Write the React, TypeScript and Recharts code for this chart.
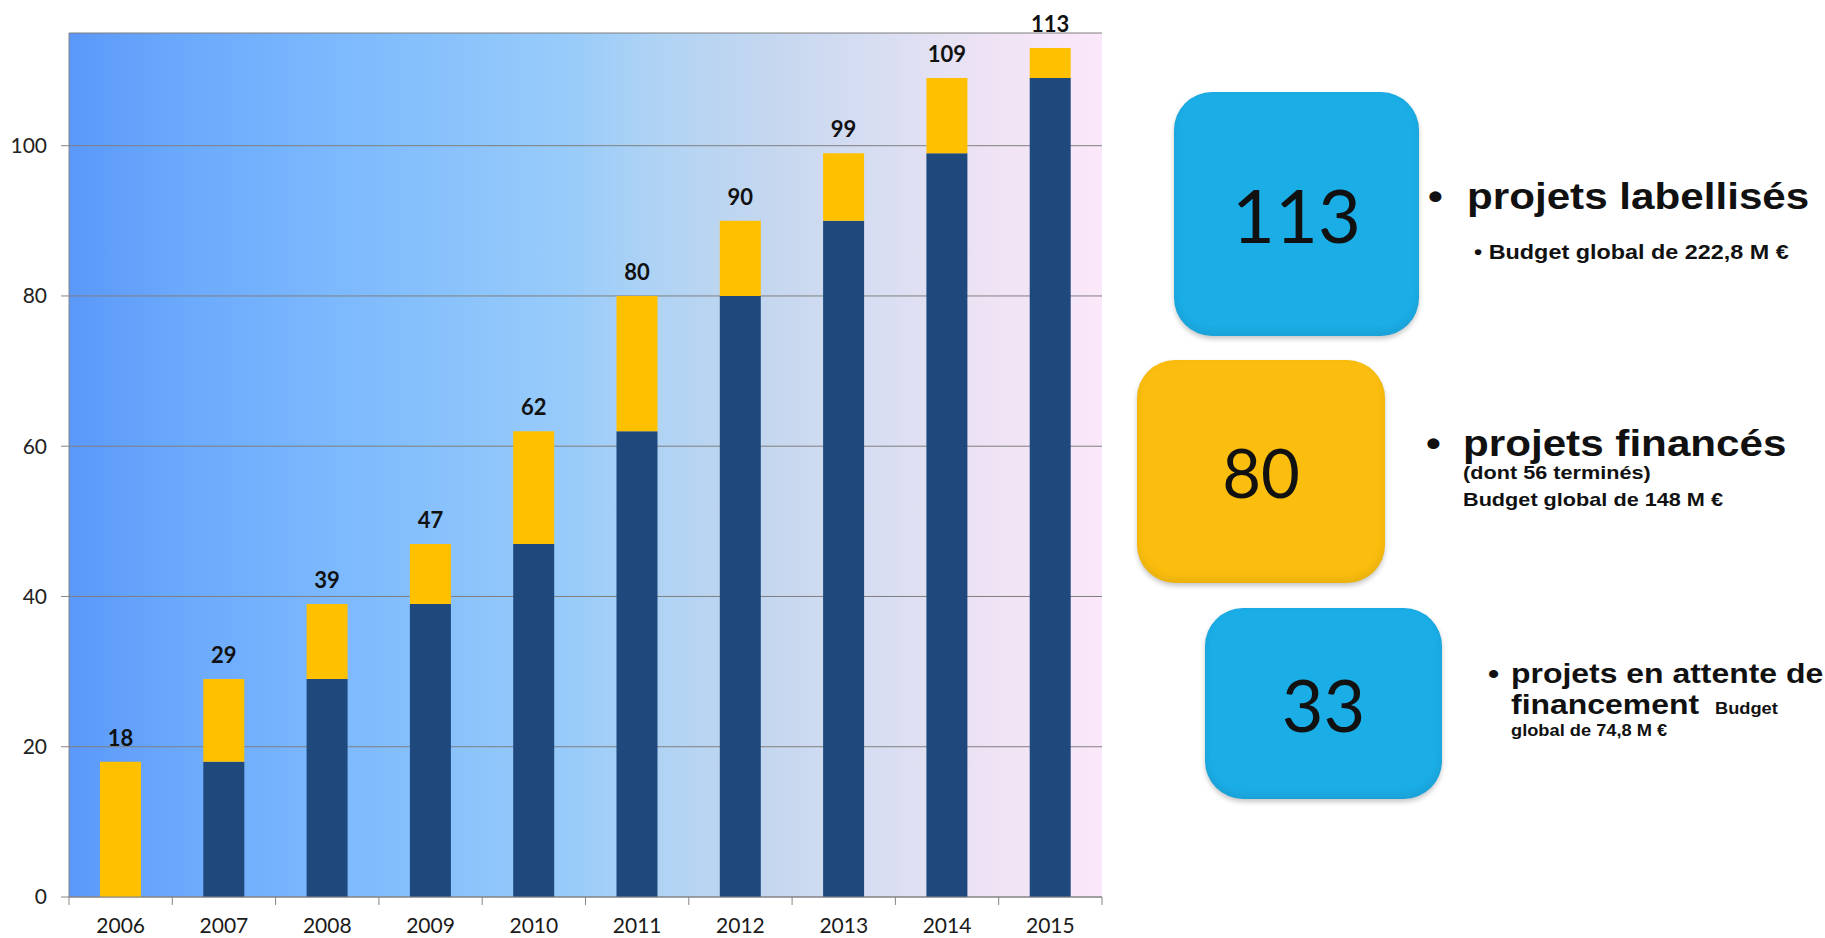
import React from 'react';
import {
    BarChart,
    Bar,
    XAxis,
    YAxis,
    CartesianGrid,
    LabelList,
} from 'recharts';

// values
const years = ['2006', '2007', '2008', '2009', '2010', '2011', '2012', '2013', '2014', '2015'];
const financed = [0, 18, 29, 39, 47, 62, 80, 90, 99, 109];
const added = [18, 11, 10, 8, 15, 18, 10, 9, 10, 4];
const totals = [18, 29, 39, 47, 62, 80, 90, 99, 109, 113];
const yTicks = [0, 20, 40, 60, 80, 100];

const data = years.map((year, i) => ({
    year,
    financed: financed[i],
    added: added[i],
    total: totals[i],
}));

const NAVY = '#1F497D';
const GOLD = '#FFC000';
const AXIS = '#868686';
const CHART_FONT = 'Lato, "Open Sans", sans-serif';
const TEXT_FONT = '"Liberation Sans", Arial, sans-serif';
const SX = 1.14;
const X_TICK_MARGIN = 21;

// year label + Excel-style tick marks between the categories
const YearTick = (props: any) => {
    const { x, y, payload, index, visibleTicksCount } = props;
    const half = payload && payload.offset ? payload.offset : 0;
    const axisY = y - X_TICK_MARGIN;
    return (
        <g>
            {half ? (
                <line x1={x - half} x2={x - half} y1={axisY} y2={axisY + 8} stroke={AXIS} />
            ) : null}
            {half && index === visibleTicksCount - 1 ? (
                <line x1={x + half} x2={x + half} y1={axisY} y2={axisY + 8} stroke={AXIS} />
            ) : null}
            <text
                x={x}
                y={y}
                dy="0.7em"
                textAnchor="middle"
                fill="#1a1a1a"
                fontSize={21}
                fontFamily={CHART_FONT}
            >
                {payload.value}
            </text>
        </g>
    );
};

function Line({ left, baseline, size, children }: any) {
    return (
        <div
            style={{
                position: 'absolute',
                left,
                top: baseline - 0.8465 * size,
                fontSize: size,
                lineHeight: `${size}px`,
                fontFamily: TEXT_FONT,
                fontWeight: 700,
                color: '#111',
                whiteSpace: 'nowrap',
                transform: `scaleX(${SX})`,
                transformOrigin: '0 0',
            }}
        >
            {children}
        </div>
    );
}

function Box({ left, top, width, height, color, size, value }: any) {
    return (
        <div
            style={{
                position: 'absolute',
                left,
                top,
                width,
                height,
                background: color,
                borderRadius: 38,
                boxShadow: '0 3px 5px rgba(0,0,0,0.22), inset 0 -4px 8px rgba(0,0,0,0.08)',
                display: 'flex',
                alignItems: 'center',
                justifyContent: 'center',
                fontFamily: CHART_FONT,
                fontSize: size,
                color: '#111',
            }}
        >
            {value}
        </div>
    );
}

export default function App() {
    return (
        <div
            style={{
                position: 'absolute',
                left: 0,
                top: 0,
                width: 1825,
                height: 938,
                background: '#fff',
                overflow: 'hidden',
            }}
        >
            <BarChart
                width={1110}
                height={938}
                data={data}
                margin={{ top: 33, right: 8, left: 0, bottom: 0 }}
            >
                <defs>
                    <linearGradient id="plotBg" x1="0" y1="0" x2="1" y2="0">
                        <stop offset="0" stopColor="#5a98f9" />
                        <stop offset="0.1" stopColor="#6aa8fc" />
                        <stop offset="0.26" stopColor="#7cb9fd" />
                        <stop offset="0.39" stopColor="#8cc4fb" />
                        <stop offset="0.48" stopColor="#97cbfa" />
                        <stop offset="0.57" stopColor="#b0d3f4" />
                        <stop offset="0.68" stopColor="#c5d7ef" />
                        <stop offset="0.79" stopColor="#d9def2" />
                        <stop offset="0.89" stopColor="#eee3f4" />
                        <stop offset="1" stopColor="#fbe8fa" />
                    </linearGradient>
                </defs>
                <CartesianGrid
                    vertical={false}
                    stroke="#7f7f7f"
                    fill="url(#plotBg)"
                    fillOpacity={1}
                />
                <XAxis
                    dataKey="year"
                    height={41}
                    interval={0}
                    axisLine={{ stroke: AXIS }}
                    tickLine={false}
                    tickSize={0}
                    tickMargin={X_TICK_MARGIN}
                    tick={<YearTick />}
                />
                <YAxis
                    width={69}
                    domain={[0, 115]}
                    ticks={yTicks}
                    axisLine={{ stroke: AXIS }}
                    tickLine={{ stroke: AXIS }}
                    tickSize={8}
                    tickMargin={14}
                    tick={{ fill: '#222', fontSize: 21, fontFamily: CHART_FONT }}
                />
                <Bar
                    dataKey="financed"
                    stackId="s"
                    fill={NAVY}
                    barSize={41}
                    isAnimationActive={false}
                />
                <Bar
                    dataKey="added"
                    stackId="s"
                    fill={GOLD}
                    barSize={41}
                    isAnimationActive={false}
                >
                    <LabelList
                        dataKey="total"
                        position="top"
                        offset={16}
                        fill="#111"
                        fontSize={22}
                        fontWeight={700}
                        fontFamily={CHART_FONT}
                    />
                </Bar>
            </BarChart>

            <Box left={1174} top={92} width={245} height={244} color="#1BADE6" size={74} value="113" />
            <Box left={1137} top={360} width={248} height={223} color="#FBBE0E" size={67} value="80" />
            <Box left={1205} top={608} width={237} height={191} color="#1BADE6" size={72} value="33" />

            <Line left={1428} baseline={209} size={37}>•</Line>
            <Line left={1467} baseline={209} size={37}>projets labellisés</Line>
            <Line left={1474} baseline={259} size={20.5}>• Budget global de 222,8 M €</Line>

            <Line left={1426} baseline={456} size={37}>•</Line>
            <Line left={1463} baseline={456} size={37}>projets financés</Line>
            <Line left={1463} baseline={479} size={19}>(dont 56 terminés)</Line>
            <Line left={1463} baseline={506} size={19}>Budget global de 148 M €</Line>

            <Line left={1488} baseline={684} size={28}>•</Line>
            <Line left={1511} baseline={684} size={28}>projets en attente de</Line>
            <Line left={1511} baseline={715} size={28}>
                financement<span style={{ fontSize: 16, marginLeft: 14 }}>Budget</span>
            </Line>
            <Line left={1511} baseline={737} size={16}>global de 74,8 M €</Line>
        </div>
    );
}
